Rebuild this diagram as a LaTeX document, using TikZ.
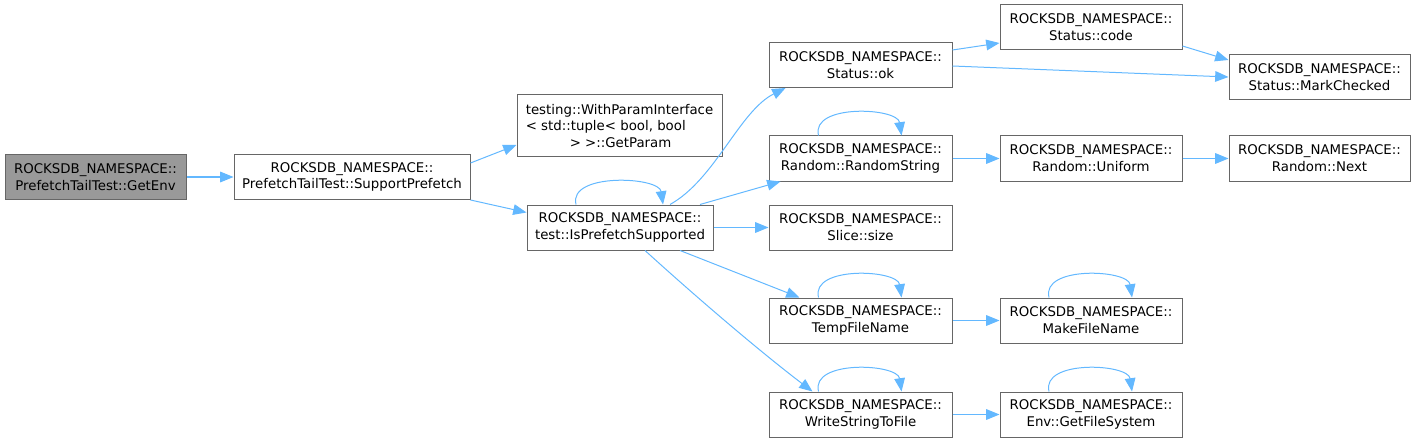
\documentclass[tikz,border=0pt]{standalone}
\usepackage{fontspec}
\setmainfont{DejaVu Sans}
\usepackage{xcolor}
\usepackage{tikz}
\usetikzlibrary{arrows.meta, positioning, calc}

\definecolor{edgeblue}{HTML}{63B8FF}
\definecolor{boxgray}{HTML}{666666}
\definecolor{rootfill}{HTML}{999999}

\tikzset{
  fn/.style={draw=boxgray, line width=0.75pt, rectangle, inner sep=0pt,
    minimum height=33.75pt, align=center,
    font=\fontsize{10pt}{12.6pt}\selectfont},
  root/.style={fn, fill=rootfill},
  call/.style={draw=edgeblue, line width=0.75pt,
    -{Triangle[length=10pt, width=8pt]}}
}

\begin{document}
\begin{tikzpicture}[x=0.75pt, y=-0.75pt]
  \useasboundingbox (0,0) rectangle (1416,442);

  % Nodes
  \node[root, minimum width=135.75pt] (getenv) at (95.5,177)
    {ROCKSDB\_NAMESPACE::\\PrefetchTailTest::GetEnv};
  \node[fn, minimum width=177pt] (support) at (352,177)
    {ROCKSDB\_NAMESPACE::\\PrefetchTailTest::SupportPrefetch};
  \node[fn, minimum width=153.75pt, minimum height=46.5pt, align=left] (getparam) at (619.5,126)
    {testing::WithParamInterface\\\textless{} std::tuple\textless{} bool, bool\\\hspace*{33pt}\textgreater{} \textgreater{}::GetParam};
  \node[fn, minimum width=139.5pt] (isprefetch) at (620,227.5)
    {ROCKSDB\_NAMESPACE::\\test::IsPrefetchSupported};
  \node[fn, minimum width=137.25pt] (ok) at (860.5,65)
    {ROCKSDB\_NAMESPACE::\\Status::ok};
  \node[fn, minimum width=136.5pt] (code) at (1091,27.5)
    {ROCKSDB\_NAMESPACE::\\Status::code};
  \node[fn, minimum width=135.75pt] (mark) at (1319.5,77)
    {ROCKSDB\_NAMESPACE::\\Status::MarkChecked};
  \node[fn, minimum width=137.25pt] (randstr) at (860.5,158.5)
    {ROCKSDB\_NAMESPACE::\\Random::RandomString};
  \node[fn, minimum width=136.5pt] (uniform) at (1091,158.5)
    {ROCKSDB\_NAMESPACE::\\Random::Uniform};
  \node[fn, minimum width=135.75pt] (next) at (1319.5,158.5)
    {ROCKSDB\_NAMESPACE::\\Random::Next};
  \node[fn, minimum width=137.25pt] (slice) at (860.5,227.5)
    {ROCKSDB\_NAMESPACE::\\Slice::size};
  \node[fn, minimum width=137.25pt] (temp) at (860.5,320.5)
    {ROCKSDB\_NAMESPACE::\\TempFileName};
  \node[fn, minimum width=136.5pt] (make) at (1091,320.5)
    {ROCKSDB\_NAMESPACE::\\MakeFileName};
  \node[fn, minimum width=137.25pt] (write) at (860.5,414.5)
    {ROCKSDB\_NAMESPACE::\\WriteStringToFile};
  \node[fn, minimum width=136.5pt] (getfs) at (1091,414.5)
    {ROCKSDB\_NAMESPACE::\\Env::GetFileSystem};

  % Calls
  \draw[call] (getenv.east) -- (support.west);
  \draw[call] ($(support.east)+(0,-14)$) -- ($(getparam.west)+(0,19)$);
  \draw[call] (support.south east) -- ($(isprefetch.west)+(0,-15)$);
  \draw[call] ($(isprefetch.north)+(50,0)$) .. controls +(45,-25) and +(-46,23) .. ($(ok.south west)+(17,0)$);
  \draw[call] ($(isprefetch.north)+(80,0)$) -- ($(randstr.south west)+(12,0)$);
  \draw[call] (isprefetch.east) -- (slice.west);
  \draw[call] ($(isprefetch.south)+(60,0)$) -- ($(temp.north west)+(31,0)$);
  \draw[call] ($(isprefetch.south)+(25,0)$) .. controls +(55,50) and +(-50,-38) .. ($(write.north west)+(44,0)$);
  \draw[call] ($(ok.east)+(0,-15)$) -- ($(code.west)+(0,15.5)$);
  \draw[call] ($(ok.east)+(0,1)$) -- (mark.west);
  \draw[call] ($(code.east)+(0,18.5)$) -- ($(mark.west)+(0,-17)$);
  \draw[call] (randstr.east) -- (uniform.west);
  \draw[call] (uniform.east) -- (next.west);
  \draw[call] (temp.east) -- (make.west);
  \draw[call] (write.east) -- (getfs.west);

  % Recursive calls
  \draw[call] ($(isprefetch.north)+(-44,0)$) .. controls +(-8,-32) and +(-4,-28) .. ($(isprefetch.north)+(43,0)$);
  \draw[call] ($(randstr.north)+(-42,0)$) .. controls +(-8,-32) and +(-4,-28) .. ($(randstr.north)+(41,0)$);
  \draw[call] ($(temp.north)+(-42,0)$) .. controls +(-8,-32) and +(-4,-28) .. ($(temp.north)+(41,0)$);
  \draw[call] ($(make.north)+(-42,0)$) .. controls +(-8,-32) and +(-4,-28) .. ($(make.north)+(41,0)$);
  \draw[call] ($(write.north)+(-42,0)$) .. controls +(-8,-32) and +(-4,-28) .. ($(write.north)+(41,0)$);
  \draw[call] ($(getfs.north)+(-42,0)$) .. controls +(-8,-32) and +(-4,-28) .. ($(getfs.north)+(41,0)$);
\end{tikzpicture}
\end{document}
